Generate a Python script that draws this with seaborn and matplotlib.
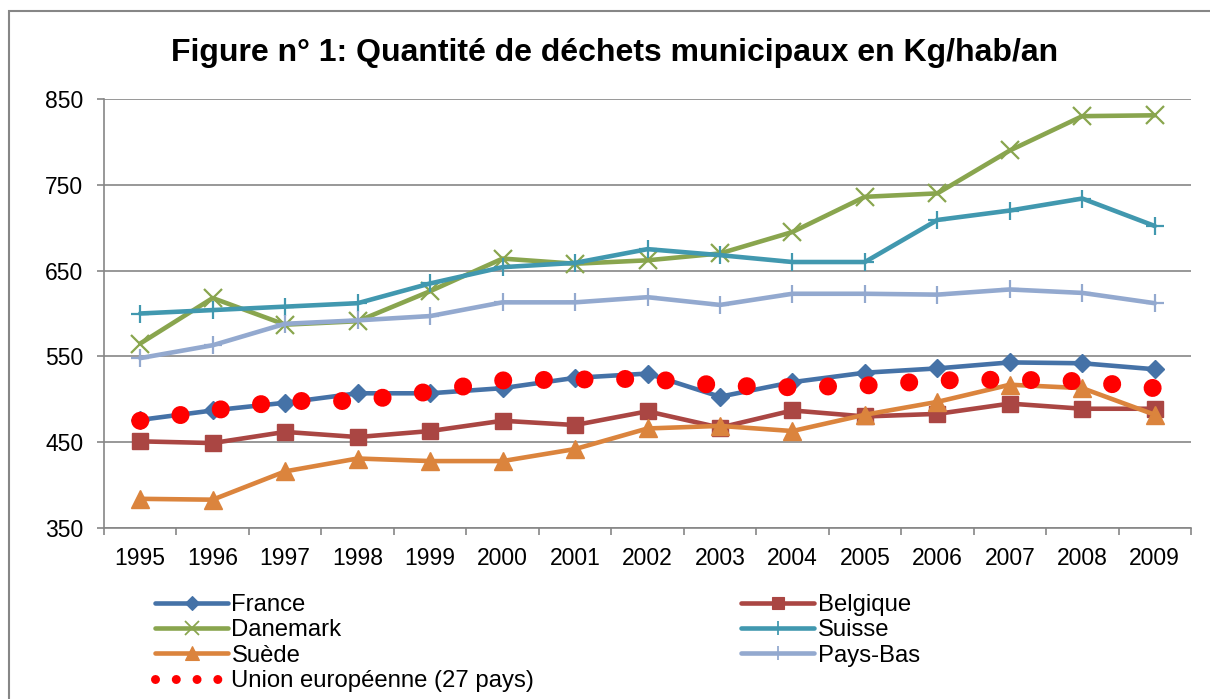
import numpy as np
import pandas as pd
import seaborn as sns
import matplotlib.pyplot as plt
from matplotlib.patches import Rectangle
from matplotlib.lines import Line2D

# values (kg/hab/an)
years = list(range(1995, 2010))
france = [476, 487, 496, 507, 507, 513, 525, 530, 503, 520, 531, 536, 543, 542, 535]
belgique = [451, 449, 462, 456, 463, 475, 470, 486, 467, 487, 480, 483, 495, 489, 489]
danemark = [565, 618, 587, 591, 626, 664, 658, 662, 670, 695, 736, 740, 790, 830, 831]
suisse = [600, 604, 608, 612, 635, 654, 659, 675, 668, 660, 660, 709, 720, 734, 702]
suede = [384, 383, 416, 431, 428, 428, 442, 466, 469, 463, 482, 497, 517, 513, 482]
pays_bas = [548, 563, 588, 592, 597, 613, 613, 619, 610, 623, 623, 622, 628, 624, 612]
ue27 = [475, 487, 498, 498, 509, 522, 523, 524, 516, 514, 516, 522, 523, 521, 513]

series = [
    ("France", france, "#4572A7", "D", 9.5, 1.0),
    ("Belgique", belgique, "#AA4643", "s", 12, 1.0),
    ("Danemark", danemark, "#89A54E", "x", 13, 1.6),
    ("Suisse", suisse, "#4198AF", "+", 13, 1.6),
    ("Suède", suede, "#DB843D", "^", 13, 1.0),
    ("Pays-Bas", pays_bas, "#93A9CF", "+", 13, 1.6),
]
EU_LABEL = "Union européenne (27 pays)"

sns.set_theme(style="white")
plt.rcParams["font.family"] = ["Liberation Sans", "DejaVu Sans"]
plt.rcParams["text.color"] = "black"
plt.rcParams["xtick.color"] = "black"
plt.rcParams["ytick.color"] = "black"

fig = plt.figure(figsize=(12.1, 6.99), dpi=100)
ax = fig.add_axes([104 / 1210, 1 - 528 / 699, (1191 - 104) / 1210, (528 - 99) / 699])

handles = {}
for name, vals, color, mk, ms, mew in series:
    sns.lineplot(x=years, y=vals, ax=ax, color=color, linewidth=3.3,
                 marker=mk, markersize=ms, markeredgecolor=color,
                 markeredgewidth=mew, markerfacecolor=color, legend=False)
    # smaller markers in the legend, as in the original
    handles[name] = Line2D([], [], color=color, linewidth=3.3, marker=mk,
                           markersize=ms * 0.75, markeredgecolor=color,
                           markeredgewidth=mew * 0.8, markerfacecolor=color)

sns.lineplot(x=years, y=ue27, ax=ax, color="#FF0000", linewidth=13, legend=False)
eu = ax.lines[-1]
eu.set_linestyle((0, (0.001, 2.25)))
eu.set_dash_capstyle("round")
handles[EU_LABEL] = Line2D([], [], color="#FF0000", linewidth=6.5,
                           linestyle=(0, (0.001, 2.3)), dash_capstyle="round")

ax.set_xlim(1994.5, 2009.5)
ax.set_ylim(350, 850)
ax.set_yticks(np.arange(350, 851, 100))
ax.set_xticks(years)
ax.set_xticklabels([str(y) for y in years])
ax.set_xticks(np.arange(1994.5, 2010, 1), minor=True)
ax.tick_params(axis="x", which="major", length=0, pad=14, labelsize=16.5, labelcolor="black")
ax.tick_params(axis="x", which="minor", length=5, width=1.2, color="#868686", bottom=True)
ax.tick_params(axis="y", length=5, width=1.2, color="#868686", pad=10,
               labelsize=16.5, labelcolor="black", left=True)
ax.grid(axis="y", color="#868686", linewidth=1.2)
ax.set_axisbelow(True)
for side in ["top", "right"]:
    ax.spines[side].set_visible(False)
for side in ["left", "bottom"]:
    ax.spines[side].set_color("#868686")
    ax.spines[side].set_linewidth(1.2)
ax.set_xlabel("")
ax.set_ylabel("")

order = ["France", "Danemark", "Suède", EU_LABEL, "Belgique", "Suisse", "Pays-Bas"]
fig.legend([handles[k] for k in order], order,
           loc="upper left", bbox_to_anchor=(155 / 1210, 1 - 594 / 699),
           ncol=2, frameon=False, fontsize=17.2, handlelength=3.06,
           handletextpad=0.14, columnspacing=8.66, labelspacing=0.14,
           borderpad=0, borderaxespad=0)

fig.text(615 / 1210, 1 - 53 / 699, "Figure n° 1: Quantité de déchets municipaux en Kg/hab/an",
         ha="center", va="center", fontsize=23, fontweight="bold", color="black")

fig.patches.append(Rectangle((9 / 1210, -0.1), 1.2, 1.1 - 11 / 699, transform=fig.transFigure,
                             fill=False, edgecolor="#868686", linewidth=1.5))

fig.savefig("out.png", dpi=100)
